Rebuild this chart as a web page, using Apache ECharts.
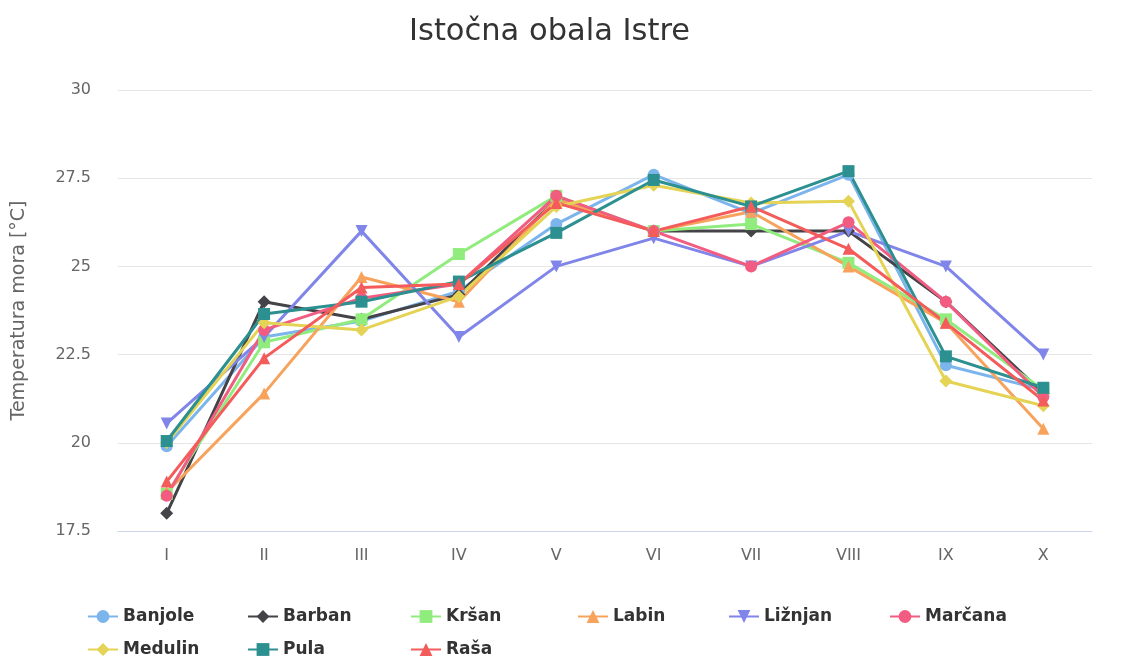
<!DOCTYPE html>
<html>
<head>
<meta charset="utf-8">
<script src="https://cdn.jsdelivr.net/npm/echarts@6/dist/echarts.min.js"></script>
<style>
html,body{margin:0;padding:0;background:#fff;}
#chart{width:1130px;height:659px;}
</style>
</head>
<body>
<div id="chart"></div>
<script>
const categories = ['I','II','III','IV','V','VI','VII','VIII','IX','X'];
const yTicks = [17.5, 20, 22.5, 25, 27.5, 30];

const banjole = [19.9, 23.0, 23.45, 24.3, 26.2, 27.6, 26.5, 27.6, 22.2, 21.5];
const barban  = [18.0, 24.0, 23.5, 24.2, 26.9, 26.0, 26.0, 26.0, 24.0, 21.4];
const krsan   = [18.55, 22.85, 23.5, 25.35, 27.0, 26.0, 26.2, 25.1, 23.5, 21.5];
const labin   = [18.6, 21.4, 24.7, 24.0, 26.9, 26.0, 26.55, 25.0, 23.4, 20.4];
const liznjan = [20.55, 23.0, 26.0, 23.0, 25.0, 25.8, 25.0, 26.0, 25.0, 22.5];
const marcana = [18.5, 23.2, 24.1, 24.5, 27.0, 26.0, 25.0, 26.25, 24.0, 21.3];
const medulin = [20.0, 23.4, 23.2, 24.15, 26.7, 27.3, 26.8, 26.85, 21.75, 21.05];
const pula    = [20.05, 23.65, 24.0, 24.57, 25.95, 27.45, 26.7, 27.7, 22.45, 21.56];
const rasa    = [18.9, 22.4, 24.4, 24.5, 26.8, 26.0, 26.7, 25.5, 23.4, 21.2];

const seriesNames = ['Banjole','Barban','Kršan','Labin','Ližnjan','Marčana','Medulin','Pula','Raša'];
const seriesData = [banjole, barban, krsan, labin, liznjan, marcana, medulin, pula, rasa];
const colors = ['#7cb5ec','#434348','#90ed7d','#f7a35c','#8085e9','#f15c80','#e4d354','#2b908f','#f45b5b'];
const triDown = 'path://M0,0 L10,0 L5,9 Z';
const symbols = ['circle','diamond','rect','triangle',triDown,'circle','diamond','rect','triangle'];
const symbolSizes = [12, 13, 12, 12, 12, 12, 13, 12, 12];

const legendPos = [
  [82, 603], [242, 603], [405, 603], [572, 603], [723, 603], [884, 603],
  [82, 636], [242, 636], [405, 636]
];

const FONT = 'DejaVu Sans';

const chart = echarts.init(document.getElementById('chart'));
chart.setOption({
  animation: false,
  color: colors,
  title: {
    text: 'Istočna obala Istre',
    left: 404,
    top: 12,
    textStyle: {fontFamily: FONT, fontSize: 30.5, fontWeight: 'normal', color: '#333333'}
  },
  grid: {left: 118, right: 38, top: 90, bottom: 128, containLabel: false},
  legend: seriesNames.map((n, i) => ({
    data: [n],
    left: legendPos[i][0],
    top: legendPos[i][1],
    itemWidth: 30,
    itemHeight: 16,
    itemGap: 8,
    textStyle: {fontFamily: FONT, fontSize: 17, fontWeight: 'bold', color: '#333333'},
    selectedMode: false
  })),
  xAxis: {
    type: 'category',
    data: categories,
    boundaryGap: true,
    axisLine: {lineStyle: {color: '#ccd6eb', width: 1}},
    axisTick: {show: false},
    axisLabel: {fontFamily: FONT, fontSize: 16, color: '#666666', margin: 17}
  },
  yAxis: {
    type: 'value',
    min: yTicks[0],
    max: yTicks[yTicks.length - 1],
    interval: 2.5,
    name: 'Temperatura mora [°C]',
    nameLocation: 'middle',
    nameGap: 89,
    nameTextStyle: {fontFamily: FONT, fontSize: 19, color: '#666666'},
    axisLine: {show: false},
    axisTick: {show: false},
    splitLine: {lineStyle: {color: '#e6e6e6', width: 1}},
    axisLabel: {fontFamily: FONT, fontSize: 16, color: '#666666', margin: 27}
  },
  series: seriesNames.map((n, i) => ({
    name: n,
    type: 'line',
    data: seriesData[i],
    symbol: symbols[i],
    symbolSize: symbolSizes[i],
    showAllSymbol: true,
    lineStyle: {width: 3, color: colors[i]},
    itemStyle: {color: colors[i]}
  }))
});
</script>
</body>
</html>
